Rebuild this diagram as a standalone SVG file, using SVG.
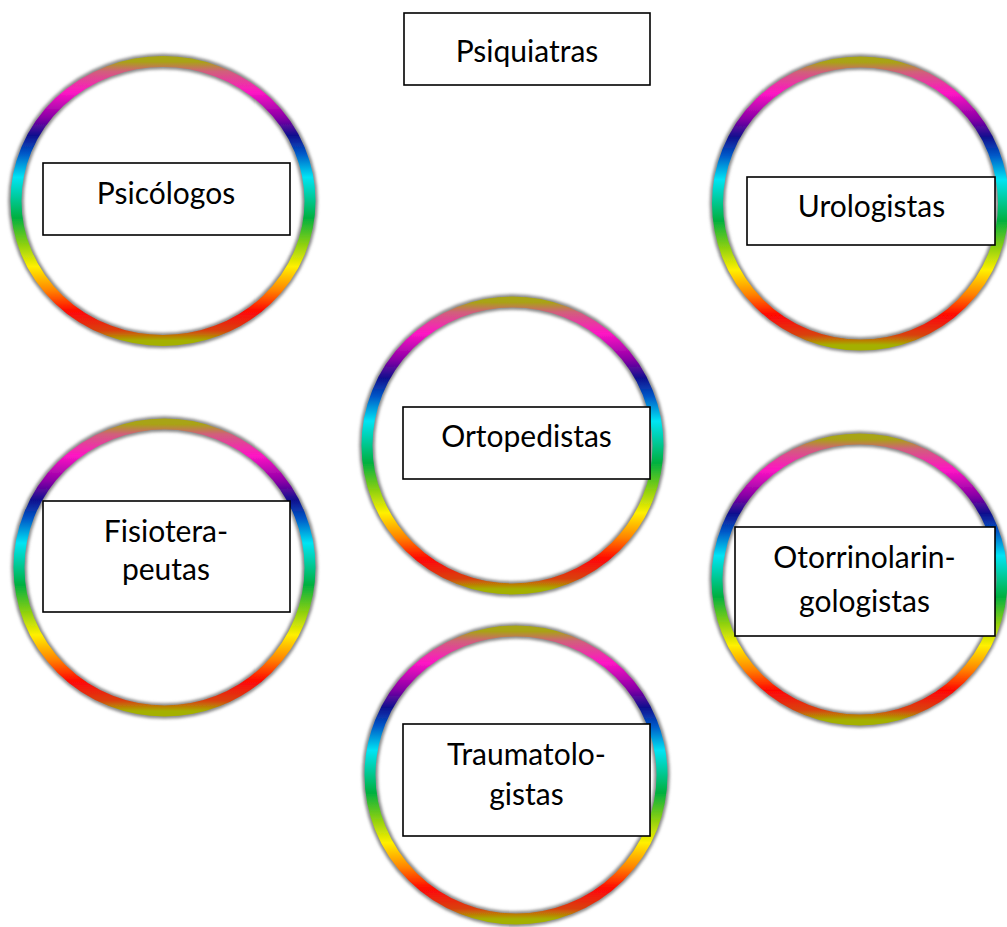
<svg xmlns="http://www.w3.org/2000/svg" width="1007" height="927" viewBox="0 0 1007 927">
  <defs>
    <!-- rainbow band, mirrored left/right: olive at top, magenta, blue, cyan, green, yellow, red, olive at bottom -->
    <linearGradient id="rainbow" x1="0" y1="0" x2="0" y2="1">
      <stop offset="0" stop-color="#a8a414"/>
      <stop offset="0.035" stop-color="#d0607a"/>
      <stop offset="0.11" stop-color="#ff14c4"/>
      <stop offset="0.2" stop-color="#8a00a6"/>
      <stop offset="0.265" stop-color="#10108e"/>
      <stop offset="0.33" stop-color="#0058c8"/>
      <stop offset="0.415" stop-color="#00e4f4"/>
      <stop offset="0.56" stop-color="#00b040"/>
      <stop offset="0.655" stop-color="#8cd010"/>
      <stop offset="0.735" stop-color="#fff000"/>
      <stop offset="0.82" stop-color="#ff8400"/>
      <stop offset="0.895" stop-color="#ff0606"/>
      <stop offset="0.965" stop-color="#d8420c"/>
      <stop offset="1" stop-color="#a4b000"/>
    </linearGradient>
    <filter id="soft" x="-10%" y="-10%" width="120%" height="120%">
      <feGaussianBlur stdDeviation="1.6"/>
    </filter>
    <filter id="softer" x="-10%" y="-10%" width="120%" height="120%">
      <feGaussianBlur stdDeviation="0.7"/>
    </filter>
  </defs>
  <style>
    .edge { fill: none; stroke: #8a8a8a; stroke-width: 15.5; filter: url(#soft); }
    .band { fill: none; stroke: url(#rainbow); stroke-width: 11; filter: url(#softer); }
    .box { fill: #ffffff; stroke: #000000; stroke-width: 1.6; }
    .label { font-family: Lato, "Open Sans", "Liberation Sans", sans-serif; font-size: 30px; fill: #000000; text-anchor: middle; }
  </style>

  <rect width="1007" height="927" fill="#ffffff"/>

  <!-- no connectors between the nodes -->
  <g id="connectors"/>

  <g id="node-psiquiatras">
    <rect class="box" x="404" y="13" width="246" height="72"/>
    <text class="label" x="527" y="62">Psiquiatras</text>
  </g>

  <g id="node-psicologos">
    <ellipse class="edge" cx="163" cy="201" rx="147" ry="139.5"/>
    <ellipse class="band" cx="163" cy="201" rx="147" ry="139.5"/>
    <rect class="box" x="43" y="163" width="247" height="72"/>
    <text class="label" x="166" y="204">Psicólogos</text>
  </g>

  <g id="node-urologistas">
    <ellipse class="edge" cx="860.5" cy="203.5" rx="143" ry="141.5"/>
    <ellipse class="band" cx="860.5" cy="203.5" rx="143" ry="141.5"/>
    <rect class="box" x="747" y="177" width="248" height="68"/>
    <text class="label" x="871.5" y="217">Urologistas</text>
  </g>

  <g id="node-ortopedistas">
    <ellipse class="edge" cx="512.5" cy="445.5" rx="145.5" ry="143.5"/>
    <ellipse class="band" cx="512.5" cy="445.5" rx="145.5" ry="143.5"/>
    <rect class="box" x="403" y="407" width="247" height="72"/>
    <text class="label" x="526.5" y="447">Ortopedistas</text>
  </g>

  <g id="node-fisioterapeutas">
    <ellipse class="edge" cx="164.5" cy="567.5" rx="145.5" ry="143.5"/>
    <ellipse class="band" cx="164.5" cy="567.5" rx="145.5" ry="143.5"/>
    <rect class="box" x="43" y="501" width="247" height="111"/>
    <text class="label" x="166" y="542">Fisiotera-</text>
    <text class="label" x="166" y="580">peutas</text>
  </g>

  <g id="node-otorrinolaringologistas">
    <ellipse class="edge" cx="859.5" cy="579.5" rx="142.5" ry="140.5"/>
    <ellipse class="band" cx="859.5" cy="579.5" rx="142.5" ry="140.5"/>
    <rect class="box" x="735" y="527" width="260" height="109"/>
    <text class="label" x="864.5" y="568">Otorrinolarin-</text>
    <text class="label" x="864.5" y="612">gologistas</text>
  </g>

  <g id="node-traumatologistas">
    <ellipse class="edge" cx="516" cy="775" rx="146" ry="144"/>
    <ellipse class="band" cx="516" cy="775" rx="146" ry="144"/>
    <rect class="box" x="403" y="724" width="247" height="112"/>
    <text class="label" x="526.5" y="765">Traumatolo-</text>
    <text class="label" x="526.5" y="805">gistas</text>
  </g>
</svg>
